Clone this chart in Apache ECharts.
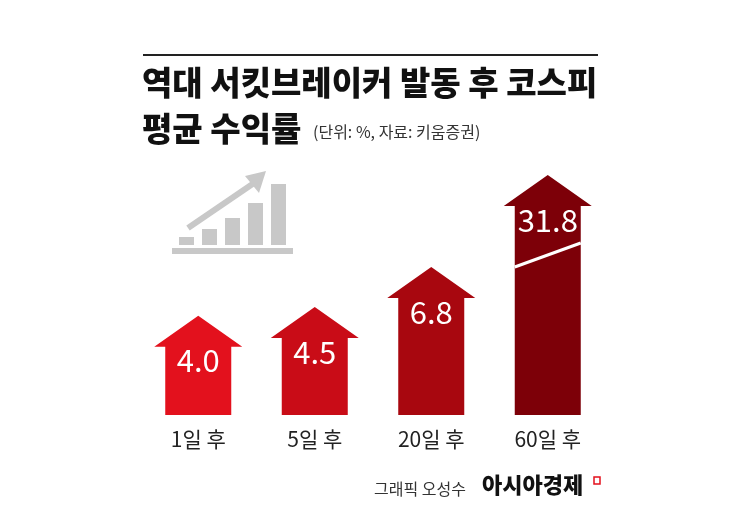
<!DOCTYPE html><html><head><meta charset="utf-8"><script src="https://cdn.jsdelivr.net/npm/echarts@6/dist/echarts.min.js"></script>
<style>body{margin:0;background:#fff}#c{width:745px;height:520px}</style></head><body><div id="c"></div><script>
var categories=['1일후','5일후','20일후','60일후'];
var values=[4.0,4.5,6.8,31.8];
var colors=['#e3111d','#c90c17','#a8070f','#7d0008'];
var chart=echarts.init(document.getElementById('c'));
var F='"Noto Sans CJK KR", sans-serif';
chart.setOption({
 backgroundColor:'#fff',
 grid:{left:140,right:139,top:175,bottom:105},
 xAxis:{type:'category',data:categories,axisLine:{show:false},axisTick:{show:false},
  axisLabel:{fontFamily:F,fontSize:21,color:'#222',margin:14,formatter:function(v){return v.replace('일후','일 후');}}},
 yAxis:{type:'value',min:-1.7,max:31.8,show:false,splitLine:{show:false},
  breaks:[{start:10,end:30,gap:'2%'}],breakArea:{show:false}},
 series:[{type:'custom',data:values.map(function(v,i){return [i,v];}),
  renderItem:function(p,api){
   var i=api.value(0),v=api.value(1);
   var top=api.coord([i,v]),base=api.coord([i,-1.7]);
   var x=top[0],sw=33,hw=44,hh=31;
   var ch=[{type:'polygon',shape:{points:[[x,top[1]],[x+hw,top[1]+hh],[x+sw,top[1]+hh],[x+sw,base[1]],[x-sw,base[1]],[x-sw,top[1]+hh],[x-hw,top[1]+hh]]},
     style:{fill:colors[i]}},
    {type:'text',style:{text:v.toFixed(1),x:x,y:top[1]+45,align:'center',verticalAlign:'middle',fill:'#fff',font:'400 31px '+F}}];
   if(i===3){ch.push({type:'line',shape:{x1:x-sw,y1:top[1]+92,x2:x+sw,y2:top[1]+68},style:{stroke:'#fff',lineWidth:3}});}
   return {type:'group',children:ch};
  }}],
 graphic:[
  {type:'rect',shape:{x:143,y:54,width:455,height:2},style:{fill:'#222'}},
  {type:'text',left:142,top:66,style:{text:'역대 서킷브레이커 발동 후 코스피',font:'900 33px '+F,fill:'#111'}},
  {type:'text',left:142,top:112,style:{text:'평균 수익률',font:'900 33px '+F,fill:'#111'}},
  {type:'text',left:313,top:124,style:{text:'(단위: %, 자료: 키움증권)',font:'16px '+F,fill:'#333'}},
  {type:'rect',shape:{x:172,y:248,width:121,height:6},style:{fill:'#c8c8c8'}},
  {type:'rect',shape:{x:179,y:237,width:15,height:8},style:{fill:'#c8c8c8'}},
  {type:'rect',shape:{x:202,y:229,width:15,height:16},style:{fill:'#c8c8c8'}},
  {type:'rect',shape:{x:225,y:218,width:15,height:27},style:{fill:'#c8c8c8'}},
  {type:'rect',shape:{x:248,y:203,width:15,height:42},style:{fill:'#c8c8c8'}},
  {type:'rect',shape:{x:271,y:184,width:15,height:61},style:{fill:'#c8c8c8'}},
  {type:'polyline',shape:{points:[[188,228],[254,183]]},style:{stroke:'#c8c8c8',lineWidth:6}},
  {type:'polygon',shape:{points:[[266,171],[245,176],[259,193]]},style:{fill:'#c8c8c8'}},
  {type:'text',left:374,top:481,style:{text:'그래픽 오성수',font:'16px '+F,fill:'#333'}},
  {type:'text',left:482,top:474,style:{text:'아시아경제',font:'900 22px '+F,fill:'#111'}},
  {type:'rect',shape:{x:594,y:477,width:6,height:7},style:{fill:'#fff',stroke:'#e3111d',lineWidth:1.5}}
 ]
});
</script></body></html>
